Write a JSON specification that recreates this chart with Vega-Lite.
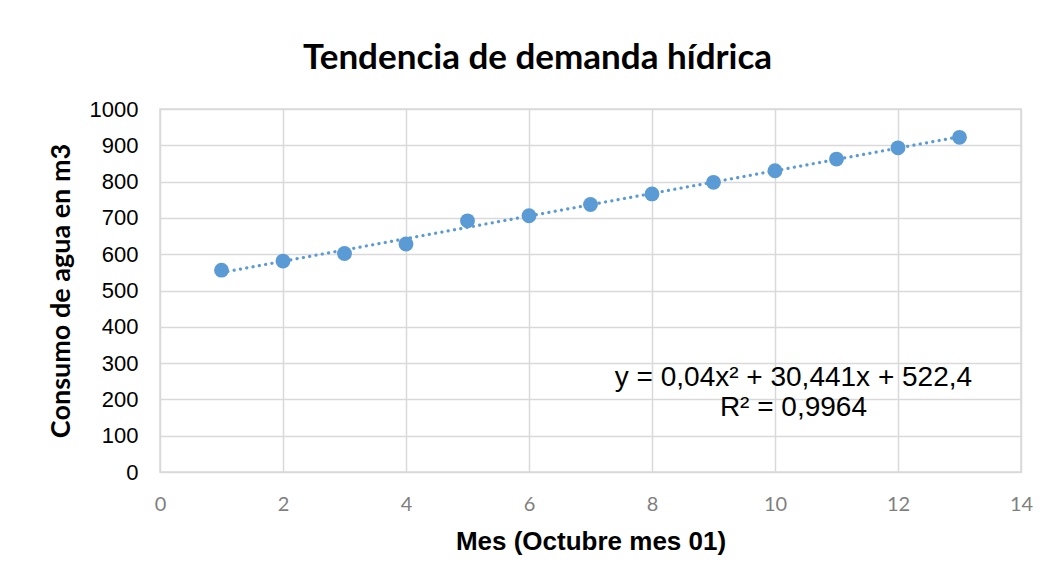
{
  "$schema": "https://vega.github.io/schema/vega-lite/v6.json",
  "width": 861,
  "height": 363,
  "autosize": "none",
  "padding": {"left": 160, "top": 109, "right": 26, "bottom": 115},
  "background": "white",
  "title": {
    "text": "Tendencia de demanda hídrica",
    "font": "Lato",
    "fontWeight": "bold",
    "fontSize": 35,
    "color": "#000000",
    "anchor": "middle",
    "frame": "group",
    "dx": -53,
    "offset": 22
  },
  "datasets": {
    "points": [
      {"mes": 1, "consumo": 556},
      {"mes": 2, "consumo": 581},
      {"mes": 3, "consumo": 602},
      {"mes": 4, "consumo": 628},
      {"mes": 5, "consumo": 692},
      {"mes": 6, "consumo": 706},
      {"mes": 7, "consumo": 737},
      {"mes": 8, "consumo": 766},
      {"mes": 9, "consumo": 798},
      {"mes": 10, "consumo": 830},
      {"mes": 11, "consumo": 862},
      {"mes": 12, "consumo": 893},
      {"mes": 13, "consumo": 922}
    ],
    "labels": [
      {"mes": 10.3, "consumo": 259, "label": "y = 0,04x²  + 30,441x  + 522,4"},
      {"mes": 10.3, "consumo": 176, "label": "R² = 0,9964"}
    ]
  },
  "config": {
    "view": {"stroke": "#d9d9d9", "strokeWidth": 1.5},
    "axis": {
      "domain": false,
      "ticks": false,
      "gridColor": "#d9d9d9",
      "gridWidth": 1.5,
      "gridOpacity": 1,
      "labelOverlap": false
    }
  },
  "encoding": {
    "x": {
      "field": "mes",
      "type": "quantitative",
      "scale": {"domain": [0, 14], "nice": false, "zero": false},
      "axis": {
        "values": [0, 2, 4, 6, 8, 10, 12, 14],
        "format": "d",
        "title": "Mes (Octubre mes 01)",
        "titleFont": "Liberation Sans",
        "titleFontWeight": "bold",
        "titleFontSize": 26,
        "titleColor": "#000000",
        "titlePadding": 14,
        "labelFont": "Lato",
        "labelFontSize": 20,
        "labelColor": "#7f7f7f",
        "labelPadding": 22,
        "labelFlush": false
      }
    },
    "y": {
      "field": "consumo",
      "type": "quantitative",
      "scale": {"domain": [0, 1000], "nice": false},
      "axis": {
        "values": [0, 100, 200, 300, 400, 500, 600, 700, 800, 900, 1000],
        "format": "d",
        "title": "Consumo de agua en m3",
        "titleFont": "Lato",
        "titleFontWeight": "bold",
        "titleFontSize": 27,
        "titleColor": "#000000",
        "titlePadding": 14,
        "labelFont": "Liberation Sans",
        "labelFontSize": 22,
        "labelColor": "#000000",
        "labelPadding": 22,
        "labelFlush": false
      }
    }
  },
  "layer": [
    {
      "data": {"name": "points"},
      "transform": [
        {"regression": "consumo", "on": "mes", "method": "poly", "order": 2, "extent": [1, 13]}
      ],
      "mark": {"type": "line", "color": "#5b9bd5", "strokeWidth": 3.2, "strokeDash": [0.1, 6.3], "strokeCap": "round"}
    },
    {
      "data": {"name": "points"},
      "mark": {"type": "circle", "color": "#5b9bd5", "opacity": 1, "size": 220}
    },
    {
      "data": {"name": "labels"},
      "mark": {"type": "text", "font": "Liberation Sans", "fontSize": 28, "color": "#000000", "align": "center", "baseline": "middle"},
      "encoding": {
        "text": {"field": "label"}
      }
    }
  ]
}
